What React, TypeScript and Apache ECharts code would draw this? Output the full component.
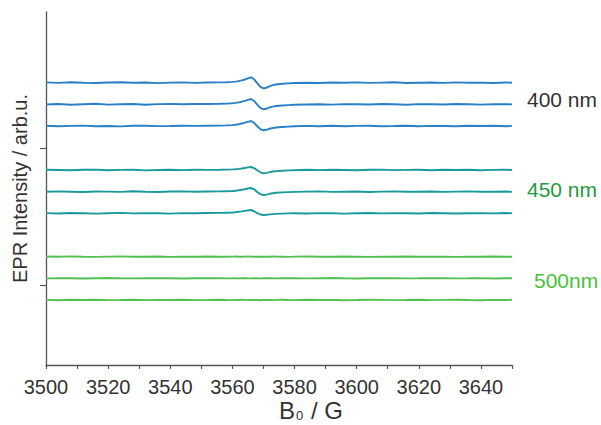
import { useEffect, useRef } from "react";
import * as echarts from "echarts";

// Magnetic field positions (G)
const fieldG = [
  3500, 3504, 3508, 3512, 3516, 3520, 3524, 3528, 3532, 3536, 3540, 3544, 3548, 3552, 3556,
  3558, 3560, 3561, 3562, 3563, 3564, 3565, 3566, 3567, 3568, 3569, 3570, 3571, 3572, 3573, 3574, 3576, 3578, 3580,
  3584, 3588, 3592, 3596, 3600, 3604, 3608, 3612, 3616, 3620, 3624, 3628, 3632, 3636, 3640, 3644, 3648, 3650,
];

// Vertical offsets of the stacked spectra (arb. u.)
const offsets = [282.3, 260.7, 239, 195, 173.3, 151.7, 108.3, 86.7, 65];

// 400 nm spectra
const s400a = [
  0.3, -0.2, 0.4, 0.0, -0.3, 0.2, 0.5, -0.1, 0.2, -0.4, 0.1, 0.3, -0.2, 0.2, 0.3,
  0.5, 0.8, 1.1, 1.6, 2.3, 3.2, 4.3, 5.3, 3.4, -0.5, -4.1, -5.7, -5.0, -3.4, -2.4, -1.8, -1.1, -0.7, -0.3,
  0.0, -0.3, 0.2, -0.1, 0.3, -0.2, 0.1, 0.4, -0.3, 0.0, 0.2, -0.2, 0.3, -0.1, 0.1, -0.3, 0.2, 0.0,
];
const s400b = [
  -0.2, 0.3, -0.4, 0.1, 0.5, -0.3, 0.0, 0.3, -0.5, 0.2, 0.4, 0.0, 0.3, 0.3, 0.5,
  0.7, 1.0, 1.4, 1.9, 2.6, 3.5, 4.5, 5.3, 3.3, -0.4, -3.6, -5.0, -4.4, -3.1, -2.3, -1.7, -1.2, -0.8, -0.5,
  -0.2, 0.1, -0.3, 0.2, 0.0, -0.2, 0.3, 0.0, -0.4, 0.2, 0.1, -0.2, 0.3, 0.0, -0.3, 0.1, 0.2, -0.1,
];
const s400c = [
  0.2, -0.3, 0.1, 0.4, -0.2, 0.0, -0.4, 0.2, 0.3, -0.1, 0.0, 0.3, 0.1, 0.3, 0.4,
  0.6, 0.9, 1.3, 1.8, 2.5, 3.3, 4.2, 5.0, 3.2, -0.3, -3.1, -4.3, -3.8, -2.7, -2.0, -1.5, -1.0, -0.6, -0.3,
  0.1, -0.2, 0.3, -0.3, 0.1, 0.2, -0.2, 0.0, 0.3, -0.3, 0.1, 0.0, -0.2, 0.2, 0.0, 0.3, -0.2, 0.1,
];

// 450 nm spectra
const s450a = [
  0.3, 0.0, -0.3, 0.2, 0.4, -0.2, 0.1, 0.3, -0.4, 0.0, 0.2, -0.1, 0.3, 0.1, 0.2,
  0.4, 0.6, 0.8, 1.1, 1.5, 2.0, 2.6, 3.0, 1.9, -0.3, -2.3, -3.3, -2.9, -2.1, -1.5, -1.1, -0.7, -0.4, -0.2,
  0.2, -0.1, 0.3, 0.0, -0.3, 0.2, 0.4, -0.1, 0.1, 0.3, -0.2, 0.2, 0.0, 0.3, -0.2, 0.1, 0.3, 0.0,
];
const s450b = [
  -0.1, 0.3, 0.0, -0.3, 0.2, 0.1, -0.2, 0.4, 0.0, -0.3, 0.2, 0.3, 0.0, 0.2, 0.3,
  0.5, 0.7, 1.0, 1.4, 1.9, 2.5, 3.2, 3.7, 2.4, -0.3, -2.4, -3.3, -2.9, -2.1, -1.5, -1.1, -0.7, -0.4, -0.2,
  0.1, 0.3, -0.2, 0.0, 0.2, -0.3, 0.1, 0.3, -0.1, 0.0, 0.2, -0.2, 0.1, 0.3, -0.1, 0.0, 0.2, -0.2,
];
const s450c = [
  0.2, -0.2, 0.3, 0.0, -0.3, 0.1, 0.4, -0.1, 0.2, 0.0, -0.3, 0.2, 0.1, 0.3, 0.4,
  0.6, 0.8, 1.1, 1.5, 1.9, 2.4, 2.9, 3.3, 2.0, 0.2, -1.2, -1.7, -1.5, -1.1, -0.8, -0.6, -0.3, -0.1, 0.1,
  -0.2, 0.2, 0.0, -0.3, 0.1, 0.3, -0.1, 0.2, 0.0, -0.2, 0.3, 0.1, -0.2, 0.0, 0.2, -0.1, 0.3, 0.0,
];

// 500 nm spectra
const s500a = [
  0.2, -0.1, 0.3, 0.0, -0.2, 0.1, 0.3, -0.1, 0.0, 0.2,
  -0.2, 0.1, 0.0, 0.2, -0.1, 0.0, 0.1, 0.2, 0.0, -0.1,
  0.1, 0.2, 0.1, 0.0, -0.1, 0.0, 0.1, -0.1, 0.0, 0.2,
  0.1, 0.0, -0.2, 0.1, 0.2, 0.0, -0.1, 0.2, 0.0, -0.2,
  0.1, 0.0, 0.2, -0.1, 0.0, 0.1, -0.2, 0.1, 0.0, 0.2,
  -0.1, 0.0,
];
const s500b = [
  -0.1, 0.2, 0.0, -0.2, 0.1, 0.3, 0.0, -0.1, 0.2, 0.0,
  0.1, -0.2, 0.0, 0.2, 0.1, -0.1, 0.0, 0.1, -0.1, 0.0,
  0.2, 0.0, -0.1, 0.1, 0.0, -0.1, 0.0, 0.1, 0.2, 0.0,
  -0.1, 0.1, 0.0, 0.2, -0.1, 0.1, 0.3, 0.0, -0.2, 0.1,
  0.0, 0.2, -0.1, 0.0, 0.2, 0.1, -0.1, 0.0, 0.2, -0.2,
  0.1, 0.0,
];
const s500c = [
  0.1, -0.2, 0.2, 0.0, 0.3, -0.1, 0.0, 0.2, -0.1, 0.1,
  0.0, 0.3, -0.1, 0.0, 0.2, 0.0, -0.1, 0.1, 0.0, 0.2,
  0.1, -0.1, 0.0, 0.1, 0.0, -0.2, 0.0, 0.1, 0.0, -0.1,
  0.1, 0.2, 0.0, -0.1, 0.2, 0.0, 0.1, -0.2, 0.0, 0.3,
  0.1, -0.1, 0.0, 0.2, -0.1, 0.1, 0.3, 0.0, -0.2, 0.1,
  0.0, 0.2,
];

const spectra = [s400a, s400b, s400c, s450a, s450b, s450c, s500a, s500b, s500c];
const lineColors = [
  "#2a80c8", "#2a80c8", "#2a80c8",
  "#1a9a9c", "#1a9a9c", "#1a9a9c",
  "#52c152", "#52c152", "#52c152",
];
const groupLabels = ["400 nm", "450 nm", "500nm"];
const groupLabelColors = ["#333333", "#1f9a3e", "#4cc23c"];
const yTicks = [80, 217];

const FONT = "'Liberation Sans', Arial, Helvetica, sans-serif";

export default function App() {
  const ref = useRef<HTMLDivElement>(null);

  useEffect(() => {
    if (!ref.current) return;
    const chart = echarts.init(ref.current, undefined, { renderer: "svg" });

    const series = spectra.map((sp, i) => {
      const g = Math.floor(i / 3);
      const isMid = i % 3 === 1;
      return {
        type: "line",
        data: fieldG.map((x, k) => [x, offsets[i] + sp[k]]),
        showSymbol: false,
        smooth: false,
        lineStyle: { color: lineColors[i], width: 1.9 },
        itemStyle: { color: lineColors[i] },
        silent: true,
        endLabel: isMid
          ? {
              show: true,
              formatter: groupLabels[g],
              color: groupLabelColors[g],
              fontSize: 21,
              fontFamily: FONT,
              distance: g === 2 ? 22 : 15,
              offset: [0, g === 0 ? -4.5 : g === 1 ? -2 : 2.5],
            }
          : undefined,
      };
    });

    chart.setOption({
      animation: false,
      backgroundColor: "#ffffff",
      grid: {
        left: 46,
        right: 89,
        top: 12,
        bottom: 60,
        containLabel: false,
        outerBoundsMode: "none",
      },
      xAxis: {
        type: "value",
        min: 3500,
        max: 3650,
        interval: 10,
        name: "{b|B}{s|0}{b| / G}",
        nameLocation: "middle",
        nameGap: 33,
        nameMoveOverlap: false,
        nameTextStyle: {
          align: "left",
          verticalAlign: "top",
          color: "#333",
          fontFamily: FONT,
          rich: {
            b: { fontSize: 24, fontFamily: FONT, color: "#333", verticalAlign: "top", lineHeight: 24 },
            s: { fontSize: 13, fontFamily: FONT, color: "#333", verticalAlign: "bottom", lineHeight: 13, padding: [8, 1, 0, 1] },
          },
        },
        axisLine: { show: true, onZero: false, lineStyle: { color: "#555", width: 1.3 } },
        axisTick: { show: true, length: 4, inside: false, lineStyle: { color: "#555", width: 1.2 } },
        axisLabel: {
          show: true,
          margin: 13,
          color: "#333",
          fontSize: 20,
          lineHeight: 18,
          fontFamily: FONT,
          formatter: (v: number) => (v % 20 === 0 ? String(v) : ""),
        },
        splitLine: { show: false },
      },
      yAxis: {
        type: "value",
        min: 0,
        max: 353,
        name: "EPR Intensity / arb.u.",
        nameLocation: "middle",
        nameGap: 16,
        nameRotate: 90,
        nameTextStyle: { color: "#333", fontSize: 20, fontFamily: FONT },
        axisLine: { show: true, onZero: false, lineStyle: { color: "#555", width: 1.3 } },
        axisTick: { show: true, length: 6, inside: false, customValues: yTicks, lineStyle: { color: "#555", width: 1.2 } },
        axisLabel: { show: false, customValues: yTicks },
        splitLine: { show: false },
      },
      series,
    });

    return () => chart.dispose();
  }, []);

  return (
    <div
      ref={ref}
      style={{ position: "fixed", left: 0, top: 0, width: 601, height: 425, background: "#fff" }}
    />
  );
}
